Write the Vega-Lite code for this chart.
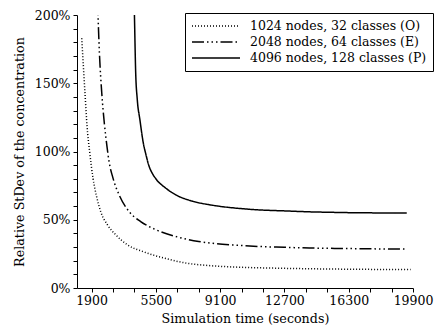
{
  "$schema": "https://vega.github.io/schema/vega-lite/v6.json",
  "autosize": "none",
  "width": 336,
  "height": 273,
  "padding": {"left": 77, "top": 15, "right": 23, "bottom": 43},
  "background": "white",
  "config": {
    "font": "DejaVu Serif",
    "view": {"stroke": null},
    "axis": {"labelFont": "DejaVu Serif", "titleFont": "DejaVu Serif", "labelFontSize": 12.5, "titleFontSize": 12.7, "titleFontWeight": "normal", "labelColor": "black", "titleColor": "black", "domainColor": "black", "tickColor": "black", "tickSize": 4, "grid": false, "labelOverlap": false, "labelFlush": false}
  },
  "data": {"values": [
    {"series": "1024 nodes, 32 classes (O)", "t": 1350, "v": 183},
    {"series": "1024 nodes, 32 classes (O)", "t": 1530, "v": 143},
    {"series": "1024 nodes, 32 classes (O)", "t": 1650, "v": 118},
    {"series": "1024 nodes, 32 classes (O)", "t": 1790, "v": 100},
    {"series": "1024 nodes, 32 classes (O)", "t": 1980, "v": 80.5},
    {"series": "1024 nodes, 32 classes (O)", "t": 2200, "v": 66},
    {"series": "1024 nodes, 32 classes (O)", "t": 2410, "v": 56},
    {"series": "1024 nodes, 32 classes (O)", "t": 2790, "v": 46.3},
    {"series": "1024 nodes, 32 classes (O)", "t": 3250, "v": 39},
    {"series": "1024 nodes, 32 classes (O)", "t": 3900, "v": 31.7},
    {"series": "1024 nodes, 32 classes (O)", "t": 4750, "v": 26.8},
    {"series": "1024 nodes, 32 classes (O)", "t": 5940, "v": 22},
    {"series": "1024 nodes, 32 classes (O)", "t": 7170, "v": 18.3},
    {"series": "1024 nodes, 32 classes (O)", "t": 8600, "v": 16.3},
    {"series": "1024 nodes, 32 classes (O)", "t": 10000, "v": 15.3},
    {"series": "1024 nodes, 32 classes (O)", "t": 12000, "v": 14.6},
    {"series": "1024 nodes, 32 classes (O)", "t": 14100, "v": 14.1},
    {"series": "1024 nodes, 32 classes (O)", "t": 16000, "v": 13.8},
    {"series": "1024 nodes, 32 classes (O)", "t": 18000, "v": 13.6},
    {"series": "1024 nodes, 32 classes (O)", "t": 19770, "v": 13.5},
    {"series": "2048 nodes, 64 classes (E)", "t": 2230, "v": 212},
    {"series": "2048 nodes, 64 classes (E)", "t": 2340, "v": 172},
    {"series": "2048 nodes, 64 classes (E)", "t": 2470, "v": 143},
    {"series": "2048 nodes, 64 classes (E)", "t": 2620, "v": 120},
    {"series": "2048 nodes, 64 classes (E)", "t": 2760, "v": 104},
    {"series": "2048 nodes, 64 classes (E)", "t": 2880, "v": 92.6},
    {"series": "2048 nodes, 64 classes (E)", "t": 3100, "v": 80.5},
    {"series": "2048 nodes, 64 classes (E)", "t": 3440, "v": 68.3},
    {"series": "2048 nodes, 64 classes (E)", "t": 4000, "v": 56},
    {"series": "2048 nodes, 64 classes (E)", "t": 4650, "v": 48.7},
    {"series": "2048 nodes, 64 classes (E)", "t": 5500, "v": 42.7},
    {"series": "2048 nodes, 64 classes (E)", "t": 6600, "v": 37.8},
    {"series": "2048 nodes, 64 classes (E)", "t": 7900, "v": 34.1},
    {"series": "2048 nodes, 64 classes (E)", "t": 8700, "v": 32.7},
    {"series": "2048 nodes, 64 classes (E)", "t": 10000, "v": 31.4},
    {"series": "2048 nodes, 64 classes (E)", "t": 11300, "v": 30.4},
    {"series": "2048 nodes, 64 classes (E)", "t": 12700, "v": 29.8},
    {"series": "2048 nodes, 64 classes (E)", "t": 14100, "v": 29.3},
    {"series": "2048 nodes, 64 classes (E)", "t": 15500, "v": 29.0},
    {"series": "2048 nodes, 64 classes (E)", "t": 16900, "v": 28.8},
    {"series": "2048 nodes, 64 classes (E)", "t": 18300, "v": 28.6},
    {"series": "2048 nodes, 64 classes (E)", "t": 19500, "v": 28.5},
    {"series": "4096 nodes, 128 classes (P)", "t": 4280, "v": 212},
    {"series": "4096 nodes, 128 classes (P)", "t": 4300, "v": 200},
    {"series": "4096 nodes, 128 classes (P)", "t": 4370, "v": 158},
    {"series": "4096 nodes, 128 classes (P)", "t": 4460, "v": 138},
    {"series": "4096 nodes, 128 classes (P)", "t": 4610, "v": 123},
    {"series": "4096 nodes, 128 classes (P)", "t": 4800, "v": 106},
    {"series": "4096 nodes, 128 classes (P)", "t": 4940, "v": 98},
    {"series": "4096 nodes, 128 classes (P)", "t": 5100, "v": 90},
    {"series": "4096 nodes, 128 classes (P)", "t": 5300, "v": 84},
    {"series": "4096 nodes, 128 classes (P)", "t": 5500, "v": 80},
    {"series": "4096 nodes, 128 classes (P)", "t": 6050, "v": 73.2},
    {"series": "4096 nodes, 128 classes (P)", "t": 6610, "v": 68.3},
    {"series": "4096 nodes, 128 classes (P)", "t": 7550, "v": 63.6},
    {"series": "4096 nodes, 128 classes (P)", "t": 8500, "v": 61},
    {"series": "4096 nodes, 128 classes (P)", "t": 9100, "v": 59.8},
    {"series": "4096 nodes, 128 classes (P)", "t": 10000, "v": 58.5},
    {"series": "4096 nodes, 128 classes (P)", "t": 11300, "v": 57.2},
    {"series": "4096 nodes, 128 classes (P)", "t": 12700, "v": 56.5},
    {"series": "4096 nodes, 128 classes (P)", "t": 14100, "v": 55.8},
    {"series": "4096 nodes, 128 classes (P)", "t": 15500, "v": 55.4},
    {"series": "4096 nodes, 128 classes (P)", "t": 16900, "v": 55.1},
    {"series": "4096 nodes, 128 classes (P)", "t": 18300, "v": 55.0},
    {"series": "4096 nodes, 128 classes (P)", "t": 19550, "v": 54.9}
  ]},
  "mark": {"type": "line", "clip": true, "color": "black", "strokeWidth": 1.5, "interpolate": "monotone"},
  "encoding": {
    "x": {"field": "t", "type": "quantitative", "scale": {"domain": [1084, 19900], "nice": false, "zero": false},
      "axis": {"title": "Simulation time (seconds)", "values": [1900, 3100, 4300, 5500, 6700, 7900, 9100, 10300, 11500, 12700, 13900, 15100, 16300, 17500, 18700, 19900],
        "labelExpr": "(datum.value - 1900) % 3600 == 0 ? datum.value : ''", "titlePadding": 6, "labelPadding": 2}},
    "y": {"field": "v", "type": "quantitative", "scale": {"domain": [0, 200], "nice": false},
      "axis": {"title": "Relative StDev of the concentration", "values": [0, 10, 20, 30, 40, 50, 60, 70, 80, 90, 100, 110, 120, 130, 140, 150, 160, 170, 180, 190, 200],
        "labelExpr": "datum.value % 50 == 0 ? datum.value + '%' : ''", "titlePadding": 8, "labelPadding": 3}},
    "detail": {"field": "series"},
    "strokeDash": {"field": "series", "type": "nominal",
      "scale": {"domain": ["1024 nodes, 32 classes (O)", "2048 nodes, 64 classes (E)", "4096 nodes, 128 classes (P)"],
        "range": [[1, 2], [12, 3, 1.5, 3, 1.5, 3, 1.5, 3], [1, 0]]},
      "legend": {"title": null, "orient": "none", "legendX": 108, "legendY": -2, "strokeColor": "black", "fillColor": "white", "padding": 6,
        "labelFont": "DejaVu Serif", "labelFontSize": 12.5, "labelColor": "black",
        "symbolType": "M-4,0H4", "symbolSize": 144, "symbolOffset": 18, "symbolStrokeWidth": 1.5, "symbolStrokeColor": "black", "labelOffset": 27, "rowPadding": 2, "labelLimit": 300}}
  }
}
